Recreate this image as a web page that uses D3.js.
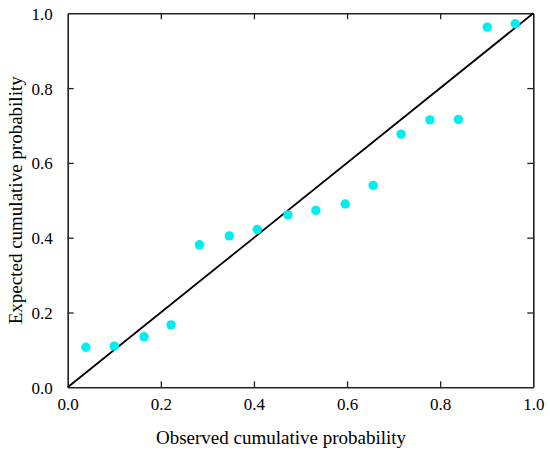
<!DOCTYPE html>
<html>
<head>
<meta charset="utf-8">
<script src="https://cdn.jsdelivr.net/npm/d3@7"></script>
<style>
  body { margin: 0; background: #fff; }
  text { font-family: "Liberation Serif", "Times New Roman", serif; fill: #000; }
</style>
</head>
<body>
<svg class="chart" width="550" height="456"></svg>
<script>
// observed vs expected cumulative probability
var observed = [0.039, 0.100, 0.164, 0.222, 0.283, 0.347, 0.407, 0.473, 0.533, 0.596, 0.656, 0.716, 0.778, 0.839, 0.901, 0.961];
var expected = [0.107, 0.110, 0.135, 0.167, 0.381, 0.405, 0.422, 0.461, 0.473, 0.490, 0.540, 0.677, 0.715, 0.716, 0.963, 0.972];
var tickValues = [0, 0.2, 0.4, 0.6, 0.8, 1.0];
var refLine = [0, 1];

var svg = d3.select(".chart"),
    margin = {top: 13.3, right: 16.7, bottom: 68.7, left: 67.7},
    width = svg.attr("width") - margin.left - margin.right,
    height = svg.attr("height") - margin.top - margin.bottom;

var x = d3.scaleLinear().domain([0, 1]).range([0, width]),
    y = d3.scaleLinear().domain([0, 1]).range([height, 0]);

var g = svg.append("g").attr("transform", "translate(" + margin.left + "," + margin.top + ")");

var fmt = d3.format(".1f");

// axes: ticks point inward, mirrored on top/right
var xAxis = g.append("g")
    .attr("transform", "translate(0," + height + ")")
    .call(d3.axisBottom(x).tickValues(tickValues).tickFormat(fmt).tickSizeInner(-6).tickSizeOuter(0).tickPadding(11));
var yAxis = g.append("g")
    .call(d3.axisLeft(y).tickValues(tickValues).tickFormat(fmt).tickSizeInner(-6).tickSizeOuter(0).tickPadding(15));
var xTop = g.append("g")
    .call(d3.axisTop(x).tickValues(tickValues).tickFormat("").tickSizeInner(-6).tickSizeOuter(0));
var yRight = g.append("g")
    .attr("transform", "translate(" + width + ",0)")
    .call(d3.axisRight(y).tickValues(tickValues).tickFormat("").tickSizeInner(-6).tickSizeOuter(0));

[xAxis, yAxis, xTop, yRight].forEach(function(a) {
  a.select(".domain").attr("stroke", "#222").attr("stroke-width", 1.6);
  a.selectAll(".tick line").attr("stroke", "#222").attr("stroke-width", 1.3);
  a.selectAll(".tick text").style("font-size", "17px").style("font-family", "Liberation Serif, serif").attr("fill", "#111");
});
// hide the end ticks on the frame corners
[xAxis, yAxis, xTop, yRight].forEach(function(a) {
  a.selectAll(".tick").filter(function(d) { return d === 0 || d === 1; }).select("line").remove();
});
yAxis.selectAll(".tick text").attr("dy", "0.35em");
xAxis.selectAll(".tick text").attr("dy", "0.71em");

// 1:1 reference line
g.append("line")
    .attr("x1", x(refLine[0])).attr("y1", y(refLine[0]))
    .attr("x2", x(refLine[1])).attr("y2", y(refLine[1]))
    .attr("stroke", "#000")
    .attr("stroke-width", 1.8);

g.selectAll("circle.pt")
  .data(observed)
  .enter().append("circle")
    .attr("class", "pt")
    .attr("cx", function(d) { return x(d); })
    .attr("cy", function(d, i) { return y(expected[i]); })
    .attr("r", 4.7)
    .attr("fill", "#00eeee");

svg.append("text")
    .attr("x", 281)
    .attr("y", 444)
    .attr("text-anchor", "middle")
    .style("font-size", "19px")
    .attr("fill", "#111")
    .text("Observed cumulative probability");

svg.append("text")
    .attr("transform", "translate(22," + (margin.top + height / 2) + ") rotate(-90)")
    .attr("text-anchor", "middle")
    .style("font-size", "19px")
    .attr("fill", "#111")
    .text("Expected cumulative probability");
</script>
</body>
</html>
